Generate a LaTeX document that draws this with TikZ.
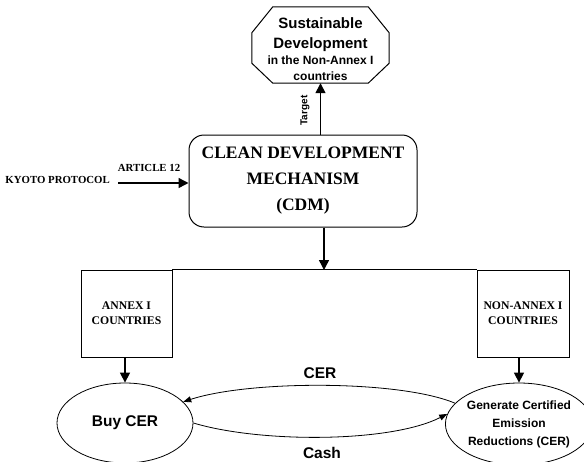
\documentclass[tikz,border=0pt]{standalone}
\usepackage{fontspec}
\setmainfont{Liberation Serif}
\newfontfamily\lsans{Liberation Sans}
\usetikzlibrary{arrows.meta,shapes.geometric}

\tikzset{
  octline/.style={draw, line width=1pt, line join=miter},
  mainbox/.style={draw, line width=1pt, rounded corners=15pt,
    minimum width=228pt, minimum height=92pt, inner sep=0pt, align=center,
    font=\bfseries\fontsize{17.5}{26}\selectfont},
  countrybox/.style={draw, line width=0.8pt, minimum height=87pt,
    inner sep=0pt, align=center, font=\bfseries\fontsize{11.7}{15}\selectfont},
  oval/.style={draw, line width=0.8pt, ellipse, inner sep=0pt, align=center},
  bigarrow/.style={line width=1.4pt, -{Triangle[length=10pt,width=10pt]}},
  flowarrow/.style={line width=0.8pt, -{Triangle[length=8pt,width=6pt]}},
  seriflabel/.style={font=\bfseries\fontsize{10.8}{12}\selectfont, inner sep=0pt},
  sanslabel/.style={font=\lsans\bfseries\fontsize{15.5}{18}\selectfont, inner sep=0pt},
}

\begin{document}
\begin{tikzpicture}[x=1pt,y=-1pt]
\useasboundingbox (0,0) rectangle (584,461);

% top goal: octagon with cut corners
\node[minimum width=137pt, minimum height=76pt, inner sep=0pt] (goal) at (320.5,45) {};
\draw[octline]
  ([xshift=21pt]goal.north west) -- ([xshift=-21pt]goal.north east)
  -- ([yshift=-26pt]goal.north east) -- ([yshift=20pt]goal.south east)
  -- ([xshift=-21pt]goal.south east) -- ([xshift=21pt]goal.south west)
  -- ([yshift=20pt]goal.south west) -- ([yshift=-26pt]goal.north west)
  -- cycle;
\node[inner sep=0pt, align=center, font=\lsans\bfseries\fontsize{12}{16}\selectfont]
  (goaltext) at (320.5,49)
  {{\fontsize{15}{16}\selectfont Sustainable}\\[4pt]
   {\fontsize{15}{16}\selectfont Development}\\
   in the Non-Annex I\\
   countries};

% central mechanism
\node[mainbox] (cdm) at (303,181) {CLEAN DEVELOPMENT\\MECHANISM\\(CDM)};

% input from the protocol
\node[seriflabel, anchor=east] (kyoto) at (110,180) {KYOTO PROTOCOL};
\coordinate (kstart) at (118,183);
\draw[bigarrow] (kstart) -- (kstart -| cdm.west);
\node[seriflabel] (art) at (149,168) {ARTICLE 12};

% target arrow
\draw[bigarrow] (goal.south |- cdm.north) -- (goal.south);
\node[font=\lsans\bfseries\fontsize{10}{12}\selectfont, rotate=90, inner sep=0pt] (target) at (305,110.5) {Target};

% country groups
\node[countrybox, minimum width=91pt] (annex) at (126.5,313.5) {ANNEX I\\COUNTRIES};
\node[countrybox, minimum width=92pt] (nonannex) at (523,313.5) {NON-ANNEX I\\COUNTRIES};
\draw[line width=0.8pt] (annex.north east) -- (nonannex.north west);
\coordinate (split) at (324,270);
\draw[bigarrow] (split |- cdm.south) -- (split);

% market
\node[oval, minimum width=136pt, minimum height=80pt,
      font=\lsans\bfseries\fontsize{15.5}{18}\selectfont] (buy) at (125,423) {Buy CER};
\node[oval, minimum width=128pt, minimum height=82pt,
      font=\lsans\bfseries\fontsize{12}{18}\selectfont] (gen) at (519,424)
  {Generate Certified\\Emission\\Reductions (CER)};

\draw[bigarrow] (annex.south -| buy.north) -- (buy.north);
\draw[bigarrow] (nonannex.south -| gen.north) -- (gen.north);

\draw[flowarrow] (gen.162) .. controls (400,380) and (250,380) .. (buy.20);
\draw[flowarrow] (buy.east) .. controls (260,443) and (390,443) .. (gen.172);

\node[sanslabel] (cerlab) at (320,373) {CER};
\node[sanslabel] (cashlab) at (322,452.5) {Cash};
\end{tikzpicture}
\end{document}
